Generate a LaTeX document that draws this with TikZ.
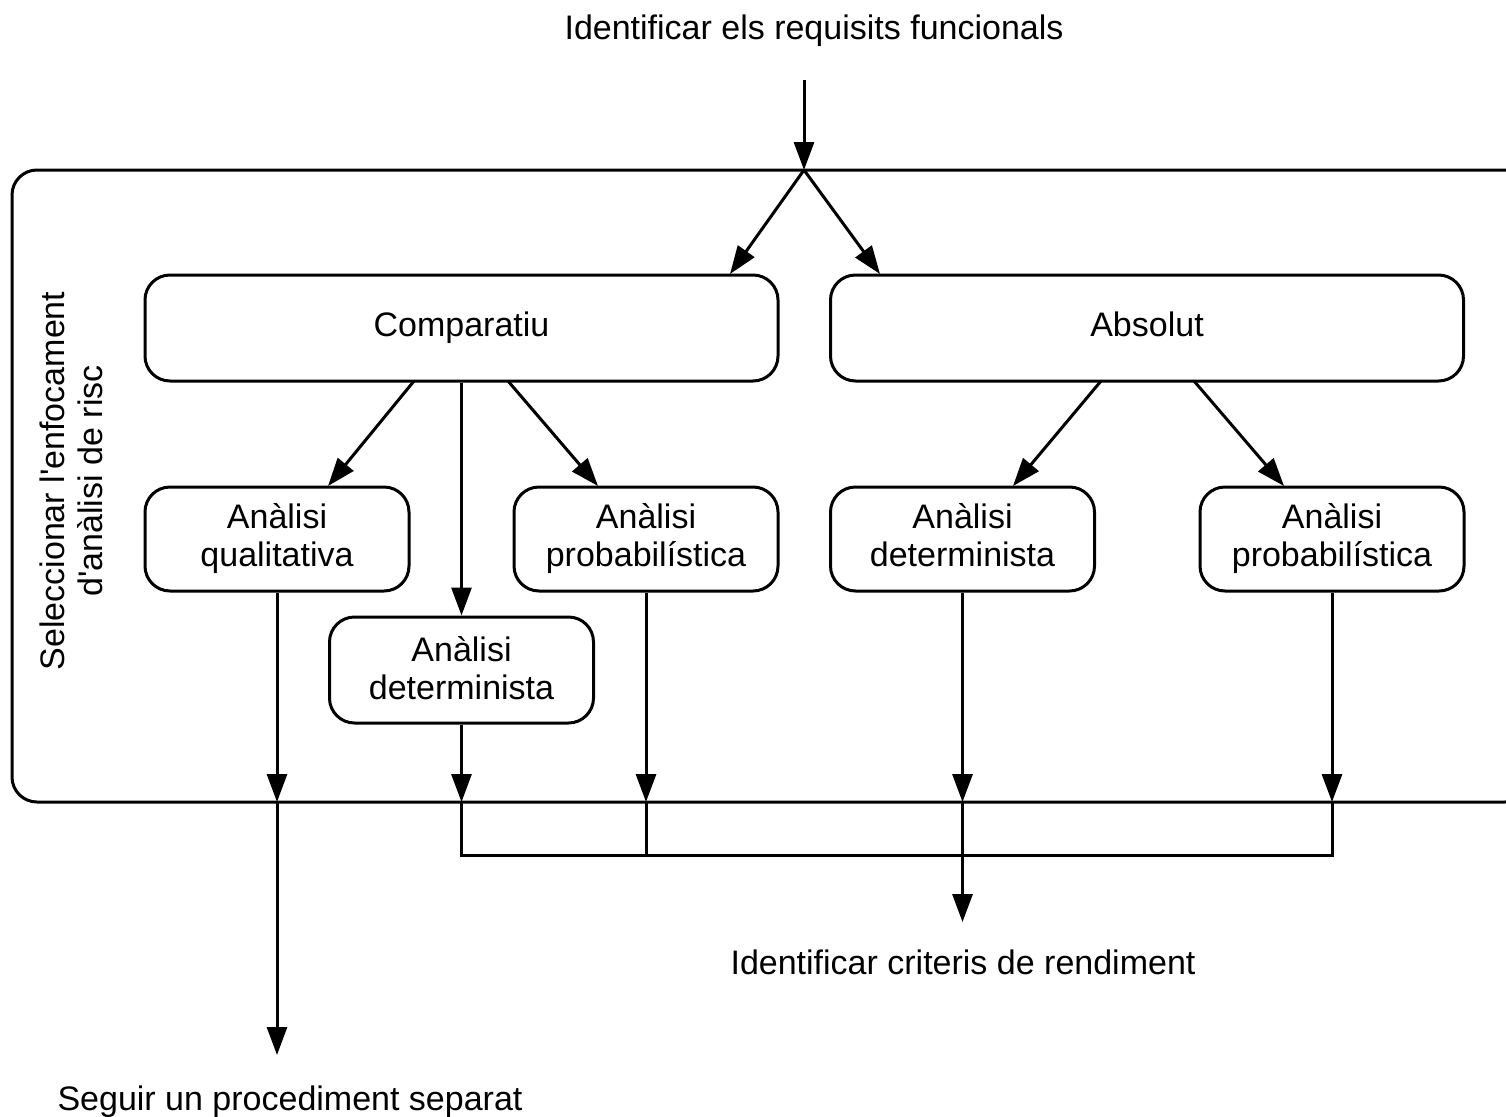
\documentclass[tikz,border=0pt]{standalone}
\usepackage{fontspec}
\setmainfont{Liberation Sans}
\usetikzlibrary{arrows.meta}
\newcommand\lh{\vphantom{lg}}
\begin{document}
\begin{tikzpicture}[x=1pt,y=-1pt,line width=3pt,
  txt/.style={font=\fontsize{34}{38}\selectfont,align=center,inner sep=0pt},
  box/.style={draw,rounded corners=25pt,txt},
  wide/.style={box,minimum width=633pt,minimum height=106pt},
  small/.style={box,minimum width=264pt,minimum height=104pt},
  arr/.style={-{Triangle[length=28pt,width=20pt]}}]
\useasboundingbox (0,0) rectangle (1506,1116);
% frame
\node[draw,rounded corners=25pt,minimum width=1518pt,minimum height=632pt,inner sep=0pt] (frame) at (771,486) {};
\node[txt,rotate=90] (sel) at (71,481) {Seleccionar l\textquotesingle enfocament\\d\textquotesingle anàlisi de risc};
% texts
\node[txt] (top) at (814,31) {\lh Identificar els requisits funcionals};
\node[txt] (crit) at (963,966) {\lh Identificar criteris de rendiment};
\node[txt] (seg) at (290,1102) {\lh Seguir un procediment separat};
% boxes
\node[wide] (comp) at (461.5,328) {\lh Comparatiu};
\node[wide] (abs) at (1147,328) {\lh Absolut};
\node[small] (qual) at (277,539) {\lh Anàlisi\\\lh qualitativa};
\node[small] (probL) at (646,539) {\lh Anàlisi\\\lh probabilística};
\node[small,minimum height=106pt] (detM) at (461.5,670) {\lh\rule{0pt}{29pt}Anàlisi\\\lh determinista};
\node[small] (detR) at (962.5,539) {\lh Anàlisi\\\lh determinista};
\node[small] (probR) at (1332,539) {\lh Anàlisi\\\lh probabilística};
% coordinates
\coordinate (ts) at (804,80);
\coordinate (j) at (804,170);
\coordinate (jl) at (730,274);
\coordinate (jr) at (880,274);
\coordinate (c1) at (414,381);
\coordinate (c1e) at (328,486);
\coordinate (c3) at (508,381);
\coordinate (c3e) at (598,486);
\coordinate (a1) at (1101,381);
\coordinate (a1e) at (1013,486);
\coordinate (a2) at (1194,381);
\coordinate (a2e) at (1284,486);
\coordinate (bq) at (277,802);
\coordinate (bd) at (461.5,802);
\coordinate (bp) at (646,802);
\coordinate (bdr) at (962.5,802);
\coordinate (bpr) at (1332,802);
\coordinate (bqe) at (277,1055);
\coordinate (crt) at (962.5,922);
% connectors
\draw[arr] (ts) -- (j);
\draw[arr] (j) -- (jl);
\draw[arr] (j) -- (jr);
\draw[arr] (c1) -- (c1e);
\draw[arr] (comp.south) -- (detM.north);
\draw[arr] (c3) -- (c3e);
\draw[arr] (a1) -- (a1e);
\draw[arr] (a2) -- (a2e);
\draw[arr] (qual.south) -- (bq);
\draw[arr] (detM.south) -- (bd);
\draw[arr] (probL.south) -- (bp);
\draw[arr] (detR.south) -- (bdr);
\draw[arr] (probR.south) -- (bpr);
\draw[arr] (bq) -- (bqe);
\draw (bd) -- (461.5,855) -- (1332,855) -- (bpr);
\draw (bp) -- (646,855);
\draw[arr] (bdr) -- (crt);
\end{tikzpicture}
\end{document}
